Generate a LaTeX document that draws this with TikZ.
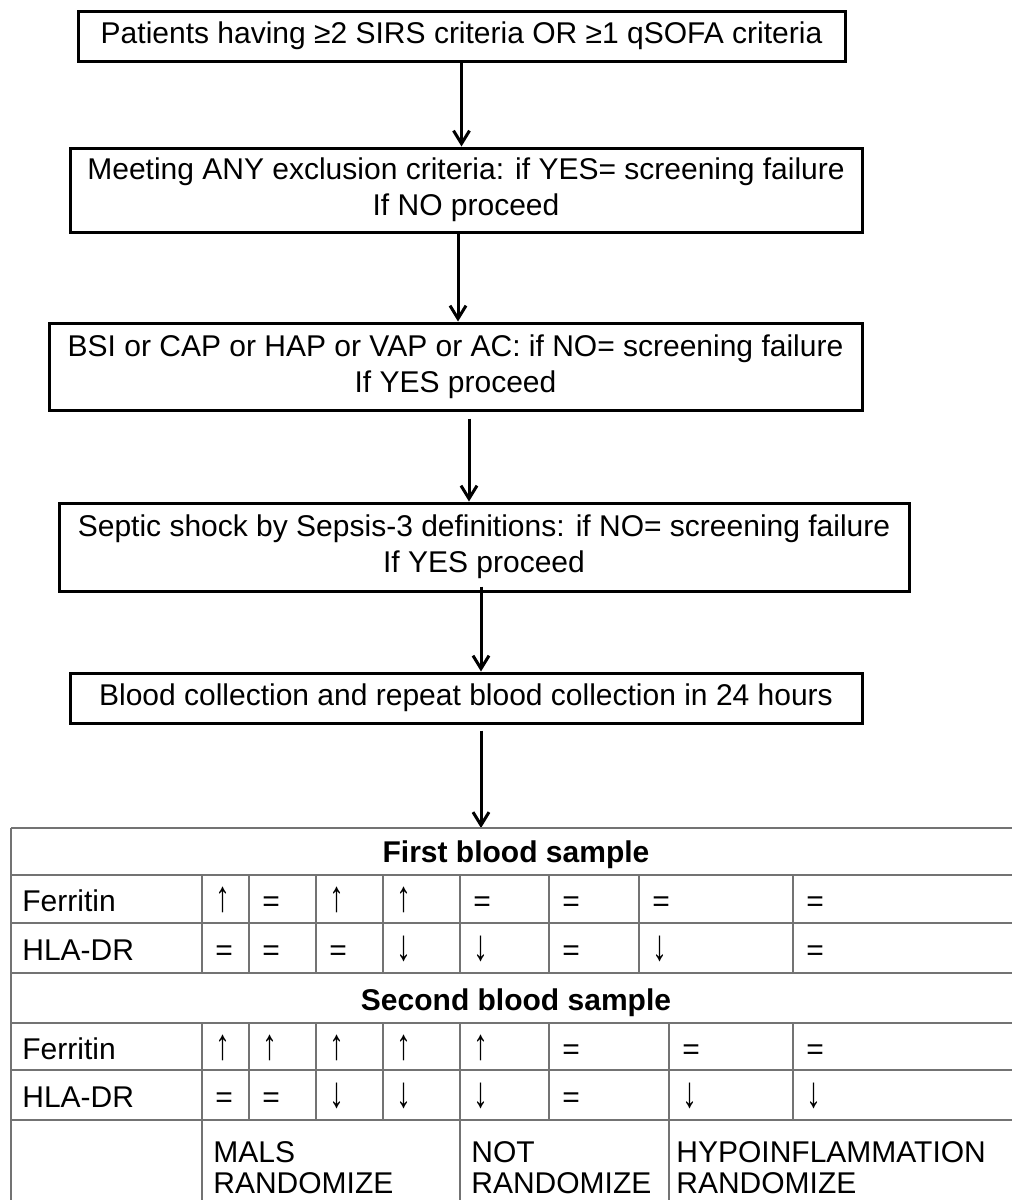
\documentclass[tikz,border=0pt]{standalone}
\usepackage{fontspec}
\setmainfont{Liberation Sans}
\usetikzlibrary{positioning,arrows.meta}
\tikzset{line/.style={draw, -{Straight Barb[length=6.5pt,width=8pt]}, line width=1.5pt}}
\newcommand{\arup}{\scalebox{1}[1.45]{↑}}
\newcommand{\ardn}{\scalebox{1}[1.45]{↓}}

\begin{document}
\begin{tikzpicture}[x=0.5pt, y=-0.5pt, font=\fontsize{15}{18}\selectfont,
  box/.style={draw, line width=1.5pt, align=center, inner sep=0pt},
  grid/.style={draw=black!55, line width=0.85pt},
  cell/.style={anchor=base west, inner sep=0pt}]
\useasboundingbox (0,0) rectangle (1012,1200);
% flow boxes
\node[box, minimum width=383.5pt, minimum height=25pt] (b1) at (461.5,36) {Patients having ≥2 SIRS criteria OR ≥1 qSOFA criteria};
\node[box, minimum width=396pt, minimum height=42pt] (b2) at (466,190) {Meeting ANY exclusion criteria: if YES= screening failure\\If NO proceed};
\node[box, minimum width=406.5pt, minimum height=43.5pt] (b3) at (455.5,366.5) {BSI or CAP or HAP or VAP or AC: if NO= screening failure\\If YES proceed};
\node[box, minimum width=425pt, minimum height=44pt] (b4) at (484,547) {Septic shock by Sepsis-3 definitions: if NO= screening failure\\If YES proceed};
\node[box, minimum width=396pt, minimum height=25pt] (b5) at (466,698) {Blood collection and repeat blood collection in 24 hours};
\coordinate (tbl) at (11,828);
\draw[line] (b1.south) -- (b1.south |- b2.north);
\draw[line] ([xshift=-4pt]b2.south) -- ([xshift=-4pt]b2.south |- b3.north);
\draw[line] ([xshift=6.75pt,yshift=-3.5pt]b3.south) -- ([xshift=6.75pt]b3.south |- b4.north);
\draw[line] ([xshift=-1.5pt,yshift=3pt]b4.south) -- ([xshift=-1.5pt]b4.south |- b5.north);
\draw[line] ([xshift=7.5pt,yshift=-3pt]b5.south) -- ([xshift=7.5pt]b5.south |- tbl);
% table
\draw[grid] (tbl) -- (11,1200);
\foreach \y in {828,875,923,973,1023,1070,1120}
  \draw[grid] (11,\y) -- (1012,\y);
\foreach \x in {202,249,316,383,460,549,639,793}
  \draw[grid] (\x,875) -- (\x,973);
\foreach \x in {202,249,316,383,460,549,669,793}
  \draw[grid] (\x,1023) -- (\x,1120);
\foreach \x in {202,460,669}
  \draw[grid] (\x,1120) -- (\x,1200);
\node[anchor=base, inner sep=0pt, font=\fontsize{15}{18}\bfseries] (h1) at (516,862) {First blood sample};
\node[anchor=base, inner sep=0pt, font=\fontsize{15}{18}\bfseries] (h2) at (516,1010) {Second blood sample};
\node[cell] (f1) at (22,911) {Ferritin};
\node[cell] (d1) at (22,960) {HLA-DR};
\node[cell] (f2) at (22,1059) {Ferritin};
\node[cell] (d2) at (22,1107) {HLA-DR};
\foreach \x/\t [count=\i] in {202/\arup,249/=,316/\arup,383/\arup,460/=,549/=,639/=,793/=}
  \node[cell] (f1-\i) at (\x+13,911) {\t};
\foreach \x/\t [count=\i] in {202/=,249/=,316/=,383/\ardn,460/\ardn,549/=,639/\ardn,793/=}
  \node[cell] (d1-\i) at (\x+13,960) {\t};
\foreach \x/\t [count=\i] in {202/\arup,249/\arup,316/\arup,383/\arup,460/\arup,549/=,669/=,793/=}
  \node[cell] (f2-\i) at (\x+13,1059) {\t};
\foreach \x/\t [count=\i] in {202/=,249/=,316/\ardn,383/\ardn,460/\ardn,549/=,669/\ardn,793/\ardn}
  \node[cell] (d2-\i) at (\x+13,1107) {\t};
% outcome row
\node[anchor=north west, inner sep=0pt, align=left, font=\fontsize{15}{15.5}\selectfont] (g1) at (213,1141) {MALS\\RANDOMIZE};
\node[anchor=north west, inner sep=0pt, align=left, font=\fontsize{15}{15.5}\selectfont] (g2) at (471,1141) {NOT\\RANDOMIZE};
\node[anchor=north west, inner sep=0pt, align=left, font=\fontsize{15}{15.5}\selectfont] (g3) at (676,1141) {HYPOINFLAMMATION\\RANDOMIZE};
\end{tikzpicture}
\end{document}
